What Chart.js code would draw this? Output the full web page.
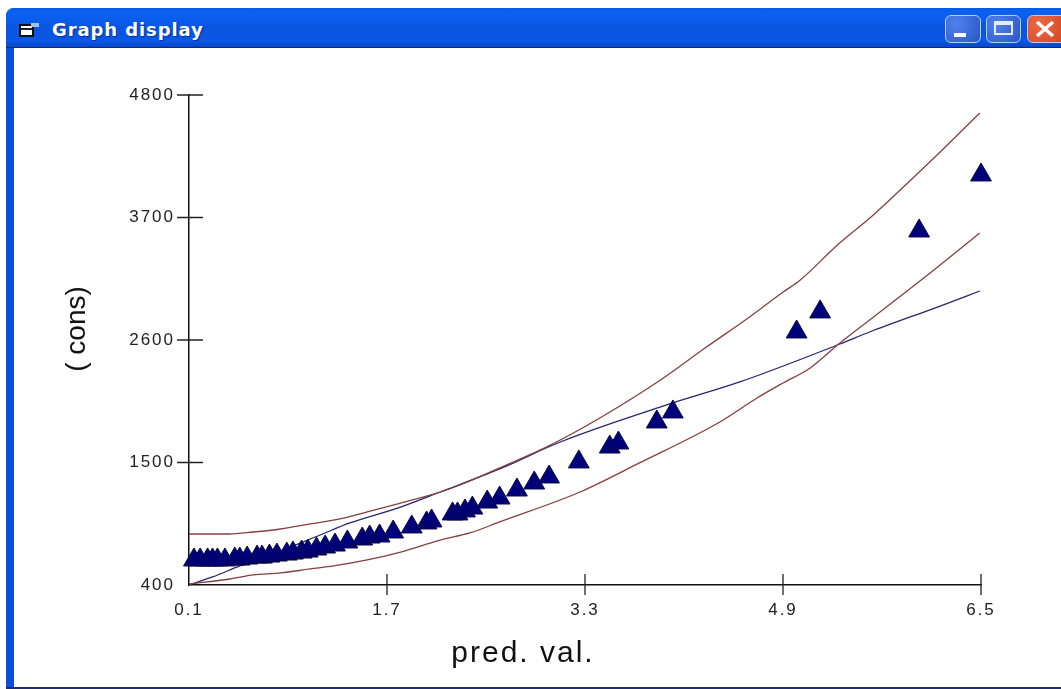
<!DOCTYPE html>
<html>
<head>
<meta charset="utf-8">
<title>Graph display</title>
<script src="https://cdn.jsdelivr.net/npm/chart.js@4/dist/chart.umd.min.js"></script>
<style>
  html, body { margin: 0; padding: 0; background: #fff; overflow: hidden; }
  #win { position: absolute; left: 6px; top: 8px; width: 1055px; height: 681px; overflow: hidden;
         background: #0a4edc; border-top-left-radius: 8px; }
  #bar { position: absolute; left: 0; top: 0; right: 0; height: 40px;
         background: linear-gradient(#0a5ae6 0%, #0a62f2 12%, #0a54e0 55%, #0a58e8 85%, #0a46c4 100%);
         border-bottom: 1px solid #0b2a80; box-sizing: border-box; }
  #titleText { position: absolute; left: 46px; top: 11px; color: #fff; font: bold 18px "DejaVu Sans", sans-serif;
               letter-spacing: 0.9px; text-shadow: 1px 1px 1px #0a2f90; white-space: nowrap; }
  #client { position: absolute; left: 8px; top: 40px; width: 1047px; height: 639px; background: #fff; }
  #bottomLine { position: absolute; left: 0; right: 0; bottom: 0; height: 2px; background: #1d2d6d; }
  .btn { position: absolute; top: 7px; height: 28px; box-sizing: border-box; border: 1.5px solid #b9cdf3; border-radius: 6px;
         background: radial-gradient(circle at 30% 30%, #4f82ea, #2a55c8); }
  canvas { display: block; }
</style>
</head>
<body>
<div id="win">
  <div id="bar">
    <svg style="position:absolute;left:13px;top:15px" width="24" height="15">
      <rect x="1" y="2" width="13" height="11" fill="#fff" stroke="#111" stroke-width="2"/>
      <rect x="2" y="5" width="11" height="2" fill="#222"/>
      <rect x="12" y="0" width="8" height="4" fill="#9fc4e8"/>
    </svg>
    <div id="titleText">Graph display</div>
    <div class="btn" style="left:939px;width:36px">
      <div style="position:absolute;left:8px;top:17px;width:12px;height:4px;background:#fff"></div>
    </div>
    <div class="btn" style="left:980px;width:35px">
      <div style="position:absolute;left:7px;top:5px;width:19px;height:14px;box-sizing:border-box;border:2px solid #e4ecfb;border-top-width:4px"></div>
    </div>
    <div class="btn" style="left:1021px;width:40px;background:radial-gradient(circle at 30% 30%, #ec6a45, #d0441f)">
      <svg style="position:absolute;left:6px;top:4px" width="22" height="18">
        <path d="M3 2 L19 16 M19 2 L3 16" stroke="#fff" stroke-width="3.5" fill="none"/>
      </svg>
    </div>
  </div>
  <div id="client"><canvas id="graph" width="1047" height="639"></canvas></div>
  <div id="bottomLine"></div>
</div>

<script>
// values
const obsX = [0.14, 0.19, 0.25, 0.29, 0.33, 0.39, 0.47, 0.51, 0.57, 0.65, 0.69, 0.75, 0.81, 0.89, 0.94, 1.01, 1.06, 1.13, 1.20, 1.28, 1.38, 1.50, 1.56, 1.64, 1.75, 1.90, 2.02, 2.06, 2.23, 2.27, 2.33, 2.39, 2.51, 2.61, 2.75, 2.89, 3.01, 3.25, 3.50, 3.57, 3.88, 4.01, 5.01, 5.20, 6.00, 6.50];
const obsY = [625, 625, 625, 625, 625, 625, 633, 633, 642, 651, 651, 660, 669, 678, 687, 696, 705, 723, 741, 759, 786, 813, 831, 840, 876, 921, 957, 975, 1038, 1038, 1065, 1091, 1145, 1181, 1253, 1316, 1370, 1505, 1639, 1675, 1864, 1954, 2672, 2852, 3579, 4082];

const upperX = [0.10, 0.42, 0.62, 0.84, 1.08, 1.32, 1.54, 1.81, 2.13, 2.29, 2.61, 3.02, 3.42, 3.91, 4.27, 4.63, 4.89, 5.04, 5.34, 5.63, 5.95, 6.17, 6.49];
const upperY = [858, 858, 876, 903, 948, 993, 1056, 1136, 1235, 1298, 1451, 1657, 1900, 2241, 2528, 2807, 3022, 3139, 3453, 3723, 4055, 4288, 4639];

const lowerX = [0.10, 0.43, 0.62, 0.84, 1.08, 1.27, 1.54, 1.81, 2.13, 2.37, 2.61, 3.26, 3.74, 4.39, 4.69, 4.90, 5.12, 5.36, 5.60, 6.13, 6.49];
const lowerY = [409, 454, 490, 508, 544, 571, 625, 696, 804, 867, 966, 1235, 1496, 1864, 2079, 2214, 2349, 2573, 2780, 3238, 3561];

const fitX = [0.10, 0.29, 0.51, 0.84, 1.16, 1.40, 1.81, 2.13, 2.61, 3.10, 3.96, 4.55, 5.36, 5.60, 6.17, 6.49];
const fitY = [400, 472, 571, 706, 849, 957, 1100, 1235, 1442, 1684, 2017, 2223, 2564, 2672, 2905, 3040];

const xTicks = [0.1, 1.7, 3.3, 4.9, 6.5];
const xTickLabels = ["0.1", "1.7", "3.3", "4.9", "6.5"];
const yTicks = [400, 1500, 2600, 3700, 4800];
const yTickLabels = ["400", "1500", "2600", "3700", "4800"];

function toPoints(xs, ys) {
  return xs.map((x, i) => ({ x: x, y: ys[i] }));
}

function lineSet(xs, ys, color) {
  return {
    type: "line",
    data: toPoints(xs, ys),
    borderColor: color,
    borderWidth: 1.3,
    pointRadius: 0,
    cubicInterpolationMode: "monotone",
    order: 2
  };
}

// axis titles sit off-centre in the original, so nudge them when the scale draws them
function shiftTitle(scale, dx, dy, spacing) {
  if (scale.titleShifted) return;
  const drawTitle = scale.drawTitle;
  scale.drawTitle = function () {
    const ctx = this.ctx;
    ctx.save();
    ctx.translate(dx, dy);
    ctx.letterSpacing = spacing;
    drawTitle.call(this);
    ctx.restore();
  };
  scale.titleShifted = true;
}

// ticks cross the axis line in the original, chart.js only draws them outwards
const crossTicks = {
  id: "crossTicks",
  beforeDraw(chart) {
    chart.ctx.letterSpacing = "2px";
    shiftTitle(chart.scales.x, -62, -15, "2px");
    shiftTitle(chart.scales.y, 46, -11, "0px");
  },
  afterDraw(chart) {
    const ctx = chart.ctx;
    const { x, y } = chart.scales;
    ctx.save();
    ctx.strokeStyle = "#222";
    ctx.lineWidth = 1.3;
    ctx.beginPath();
    xTicks.slice(1).forEach(v => {
      const px = x.getPixelForValue(v);
      ctx.moveTo(px, y.bottom - 11);
      ctx.lineTo(px, y.bottom + 10);
    });
    yTicks.slice(1).forEach(v => {
      const py = y.getPixelForValue(v);
      ctx.moveTo(x.left - 12, py);
      ctx.lineTo(x.left + 14, py);
    });
    ctx.stroke();
    ctx.restore();
  }
};

const tickFont = { family: '"Liberation Sans"', size: 17 };

new Chart(document.getElementById("graph"), {
  type: "scatter",
  data: {
    datasets: [
      {
        data: toPoints(obsX, obsY),
        backgroundColor: "#00007a",
        borderColor: "#0a0a40",
        borderWidth: 1,
        pointStyle: "triangle",
        pointRadius: 12,
        clip: false,
        order: 1
      },
      lineSet(upperX, upperY, "#84403f"),
      lineSet(lowerX, lowerY, "#84403f"),
      lineSet(fitX, fitY, "#26266e")
    ]
  },
  options: {
    responsive: false,
    animation: false,
    layout: { padding: { top: 47, right: 80, left: 0, bottom: 0 } },
    plugins: { legend: { display: false }, tooltip: { enabled: false } },
    scales: {
      x: {
        type: "linear",
        min: 0.1,
        max: 6.5,
        afterBuildTicks: scale => { scale.ticks = xTicks.map(v => ({ value: v })); },
        afterFit: scale => { scale.height = 102; },
        grid: { drawOnChartArea: false, drawTicks: false },
        border: { color: "#111", width: 1.5 },
        ticks: {
          color: "#222",
          font: tickFont,
          padding: 15,
          maxRotation: 0,
          autoSkip: false,
          callback: (v, i) => xTickLabels[i]
        },
        title: {
          display: true,
          text: "pred. val.",
          color: "#111",
          font: { family: '"Liberation Sans"', size: 30 },
          padding: { top: 15, bottom: 0 }
        }
      },
      y: {
        type: "linear",
        min: 400,
        max: 4800,
        afterBuildTicks: scale => { scale.ticks = yTicks.map(v => ({ value: v })); },
        afterFit: scale => { scale.width = 175; },
        grid: { drawOnChartArea: false, drawTicks: false },
        border: { color: "#111", width: 1.5 },
        ticks: {
          color: "#222",
          font: tickFont,
          padding: 14,
          autoSkip: false,
          callback: (v, i) => yTickLabels[i]
        },
        title: {
          display: true,
          text: "( cons)",
          color: "#111",
          font: { family: '"Liberation Sans"', size: 28 },
          padding: { top: 0, bottom: 0 }
        }
      }
    }
  },
  plugins: [crossTicks]
});
</script>
</body>
</html>
